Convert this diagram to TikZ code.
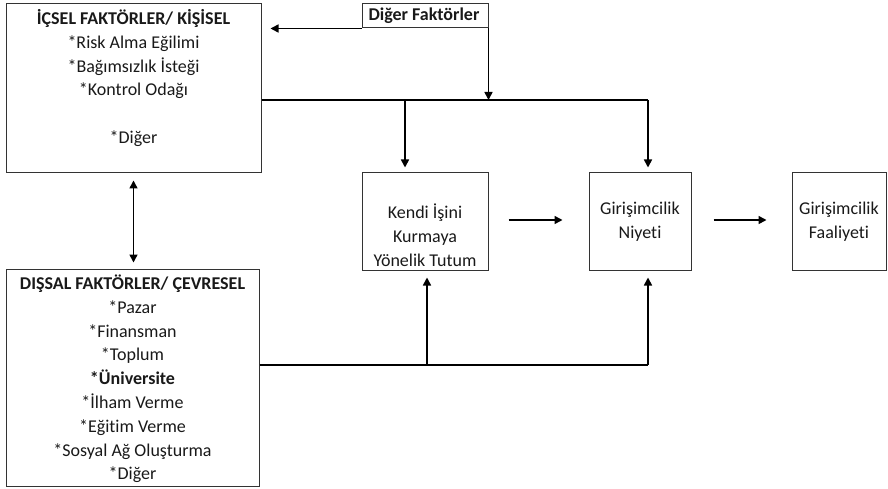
\documentclass[tikz,border=0pt]{standalone}
\usepackage{fontspec}
\setmainfont{Carlito}[Ligatures=NoCommon]
\usetikzlibrary{arrows.meta}
\begin{document}
\begin{tikzpicture}[x=1pt,y=-1pt,
		kutu/.style={draw=black!80,line width=1pt,inner sep=0pt},
		yazi/.style={align=center,inner sep=0pt,text=black!90,font=\fontsize{18}{23.8}\selectfont},
		cizgi/.style={line width=1.6pt},
		ok/.style={cizgi,-{Triangle[length=8pt,width=8pt]}},
		cift/.style={cizgi,{Triangle[length=8pt,width=8pt]}-{Triangle[length=8pt,width=8pt]}}]
	\useasboundingbox (0,0) rectangle (888,489);
	\node[kutu,minimum width=255pt,minimum height=169pt] (icsel) at (133.5,88.5) {};
	\node[kutu,minimum width=253pt,minimum height=217pt] (dissal) at (132.5,377.5) {};
	\node[kutu,minimum width=126pt,minimum height=24pt] (diger) at (425,16) {};
	\node[kutu,minimum width=126pt,minimum height=97pt] (kendi) at (425,221.5) {};
	\node[kutu,minimum width=102pt,minimum height=97pt] (niyet) at (640,221.5) {};
	\node[kutu,minimum width=94pt,minimum height=97pt] (faaliyet) at (839,221.5) {};
	\node[yazi] (icselYazi) at (133.5,78) {\textbf{İÇSEL FAKTÖRLER/ KİŞİSEL}\\*Risk Alma Eğilimi\\*Bağımsızlık İsteği\\*Kontrol Odağı\\ \\*Diğer};
	\node[yazi] (dissalYazi) at (132.5,379) {\textbf{DIŞSAL FAKTÖRLER/ ÇEVRESEL}\\*Pazar\\*Finansman\\*Toplum\\\textbf{*Üniversite}\\*İlham Verme\\*Eğitim Verme\\*Sosyal Ağ Oluşturma\\*Diğer};
	\node[yazi] (digerYazi) at (424,16) {\textbf{Diğer Faktörler}};
	\node[yazi] (kendiYazi) at (425,235) {Kendi İşini\\Kurmaya\\Yönelik Tutum};
	\node[yazi] (niyetYazi) at (640,222) {Girişimcilik\\Niyeti};
	\node[yazi] (faaliyetYazi) at (839,222) {Girişimcilik\\Faaliyeti};
	\coordinate (ustSag) at (648,100);
	\coordinate (altSag) at (648,365);
	\draw[ok,shorten >=9pt] (diger.south west) -- (diger.south west -| icsel.east);
	\draw[ok] (diger.south east) -- (diger.south east |- ustSag);
	\draw[cizgi] (icsel.east |- ustSag) -- (ustSag);
	\draw[ok,shorten >=5pt] ([xshift=-20pt]kendi.north |- ustSag) -- ([xshift=-20pt]kendi.north);
	\draw[ok,shorten >=5pt] (ustSag) -- (ustSag |- niyet.north);
	\draw[cizgi] (dissal.east |- altSag) -- (altSag);
	\draw[ok,shorten >=7pt] ([xshift=2pt]kendi.south |- altSag) -- ([xshift=2pt]kendi.south);
	\draw[ok,shorten >=7pt] (altSag) -- (altSag |- niyet.south);
	\draw[cift,shorten <=7pt,shorten >=6pt] (icsel.south) -- (icsel.south |- dissal.north);
	\draw[ok,shorten <=20pt,shorten >=26pt] ([yshift=1.5pt]kendi.east) -- ([yshift=1.5pt]niyet.west);
	\draw[ok,shorten <=22pt,shorten >=25pt] ([yshift=1.5pt]niyet.east) -- ([yshift=1.5pt]faaliyet.west);
\end{tikzpicture}
\end{document}
